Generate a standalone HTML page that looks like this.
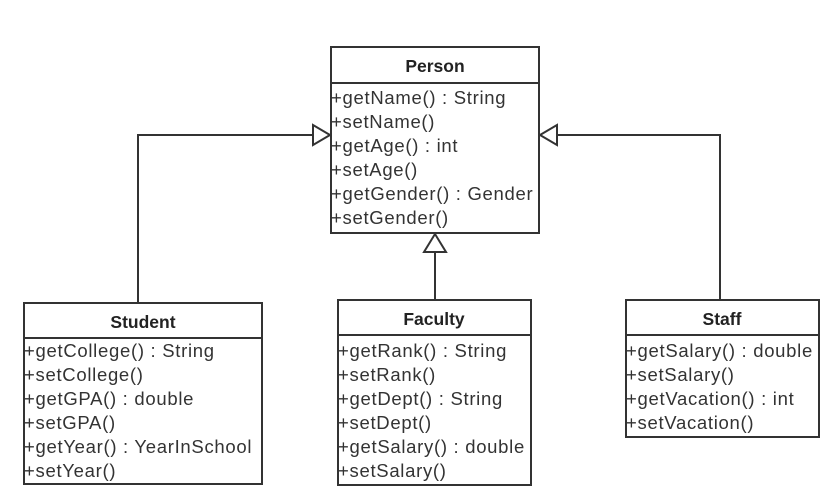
<!DOCTYPE html>
<html><head><meta charset="utf-8"><style>html,body{margin:0;padding:0;background:#fff}svg{display:block}</style></head>
<body>
<svg width="831" height="499" viewBox="0 0 831 499" xmlns="http://www.w3.org/2000/svg" font-family="Liberation Sans, Arial, sans-serif">
<g fill="none" stroke="#333" stroke-width="2">
<polyline points="138,303 138,135 313,135"/>
<polygon points="330,135 313,125 313,145" fill="#fff"/>
<polyline points="720,303 720,135 557,135"/>
<polygon points="540,135 557,125 557,145" fill="#fff"/>
<line x1="435" y1="300" x2="435" y2="252"/>
<polygon points="435,234 424,252 446,252" fill="#fff"/>
<rect x="331" y="47" width="208" height="186" fill="#fff"/>
<line x1="331" y1="83" x2="539" y2="83"/>
<rect x="24" y="303" width="238" height="181" fill="#fff"/>
<line x1="24" y1="338" x2="262" y2="338"/>
<rect x="338" y="300" width="193" height="185" fill="#fff"/>
<line x1="338" y1="335" x2="531" y2="335"/>
<rect x="626" y="300" width="193" height="137" fill="#fff"/>
<line x1="626" y1="335" x2="819" y2="335"/>
</g>
<g font-size="17.5" font-weight="bold" fill="#222" text-anchor="middle">
<text x="435" y="72">Person</text>
<text x="143" y="328">Student</text>
<text x="434" y="325">Faculty</text>
<text x="722" y="325">Staff</text>
</g>
<g font-size="18.5" fill="#333" letter-spacing="0.7">
<text x="331" y="104">+getName() : String</text>
<text x="331" y="128">+setName()</text>
<text x="331" y="152">+getAge() : int</text>
<text x="331" y="176">+setAge()</text>
<text x="331" y="200">+getGender() : Gender</text>
<text x="331" y="224">+setGender()</text>

<text x="24" y="357">+getCollege() : String</text>
<text x="24" y="381">+setCollege()</text>
<text x="24" y="405">+getGPA() : double</text>
<text x="24" y="429">+setGPA()</text>
<text x="24" y="453">+getYear() : YearInSchool</text>
<text x="24" y="477">+setYear()</text>

<text x="338" y="357">+getRank() : String</text>
<text x="338" y="381">+setRank()</text>
<text x="338" y="405">+getDept() : String</text>
<text x="338" y="429">+setDept()</text>
<text x="338" y="453">+getSalary() : double</text>
<text x="338" y="477">+setSalary()</text>

<text x="626" y="357">+getSalary() : double</text>
<text x="626" y="381">+setSalary()</text>
<text x="626" y="405">+getVacation() : int</text>
<text x="626" y="429">+setVacation()</text>
</g>
</svg>
</body></html>
